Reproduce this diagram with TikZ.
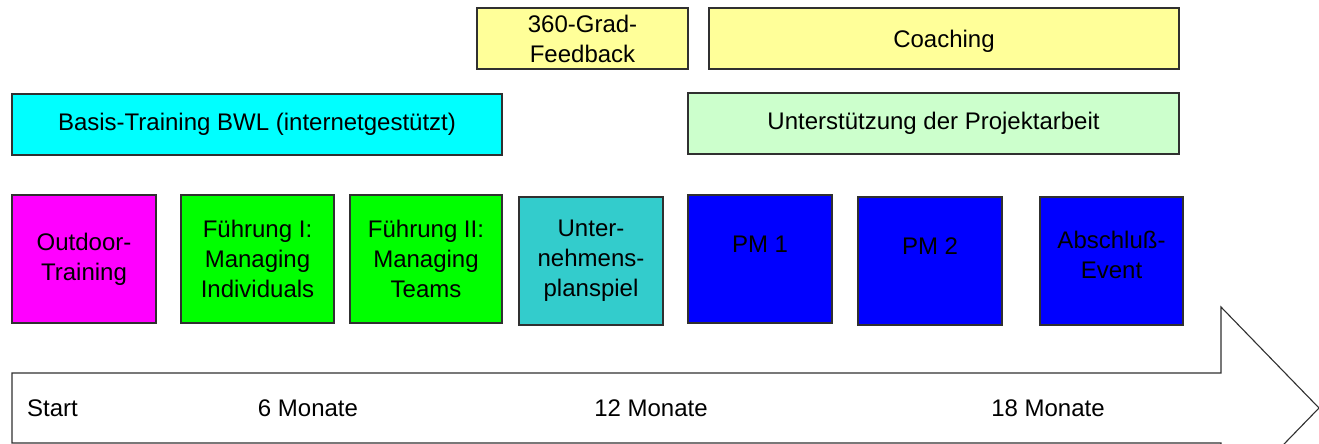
\documentclass[tikz,border=0pt]{standalone}
\usepackage{fontspec}
\setmainfont{Liberation Sans}
\definecolor{cMag}{HTML}{FF00FF}
\definecolor{cGreen}{HTML}{00FF00}
\definecolor{cCyan}{HTML}{00FFFF}
\definecolor{cTeal}{HTML}{33CCCC}
\definecolor{cBlue}{HTML}{0000FF}
\definecolor{cYellow}{HTML}{FFFF99}
\definecolor{cLGreen}{HTML}{CCFFCC}
\definecolor{cEdge}{HTML}{303030}
\begin{document}
\begin{tikzpicture}[x=1pt,y=-1pt,
  box/.style={draw=cEdge, line width=1.1pt, align=center, inner sep=0pt,
    font=\fontsize{24}{30}\selectfont},
  timelbl/.style={font=\fontsize{24}{30}\selectfont, inner sep=0pt}]
\useasboundingbox (0,0) rectangle (1319,444);
\clip (0,0) rectangle (1319,444);
% timeline arrow
\coordinate (a1) at (12,373);
\coordinate (a2) at (1221,373);
\coordinate (a3) at (1221,307);
\coordinate (a4) at (1319,408);
\coordinate (a5) at (1221,509);
\coordinate (a6) at (1221,443);
\coordinate (a7) at (12,443);
\draw[draw=cEdge, line width=1.1pt, fill=white, line join=miter] (a1) -- (a2) -- (a3) -- (a4) -- (a5) -- (a6) -- (a7) -- cycle;
\node[timelbl, anchor=west] (start) at (27,408) {Start};
\node[timelbl] (m6) at (308,408) {6 Monate};
\node[timelbl] (m12) at (651,408) {12 Monate};
\node[timelbl] (m18) at (1048,408) {18 Monate};
% top rows
\node[box, fill=cYellow, minimum width=211, minimum height=61] (fb) at (582.5,38.5) {360-Grad-\\Feedback};
\node[box, fill=cYellow, minimum width=470, minimum height=61] (coach) at (944,38.5) {};
\node[timelbl] (coachtxt) at ([yshift=-3pt]coach.center) {Coaching};
\node[box, fill=cCyan, minimum width=490, minimum height=61] (basis) at (257,124.5) {Basis-Training BWL (internetgestützt)};
\node[box, fill=cLGreen, minimum width=491, minimum height=61] (proj) at (933.5,123.5) {Unterstützung der Projektarbeit};
% modules
\node[box, fill=cMag, minimum width=144, minimum height=128] (outdoor) at (84,259) {Outdoor-\\Training};
\node[box, fill=cGreen, minimum width=153, minimum height=128] (f1) at (257.5,259) {Führung I:\\Managing\\Individuals};
\node[box, fill=cGreen, minimum width=152, minimum height=128] (f2) at (426,259) {Führung II:\\Managing\\Teams};
\node[box, fill=cTeal, minimum width=144, minimum height=128] (ups) at (591,261) {Unter-\\nehmens-\\planspiel};
\node[box, fill=cBlue, minimum width=144, minimum height=128] (pm1) at (760,259) {PM 1\\\mbox{}};
\node[box, fill=cBlue, minimum width=144, minimum height=128] (pm2) at (930,261) {PM 2\\\mbox{}};
\node[box, fill=cBlue, minimum width=143, minimum height=128] (ab) at (1111.5,261) {Abschluß-\\Event\\[-18pt]\mbox{}};
\end{tikzpicture}
\end{document}
